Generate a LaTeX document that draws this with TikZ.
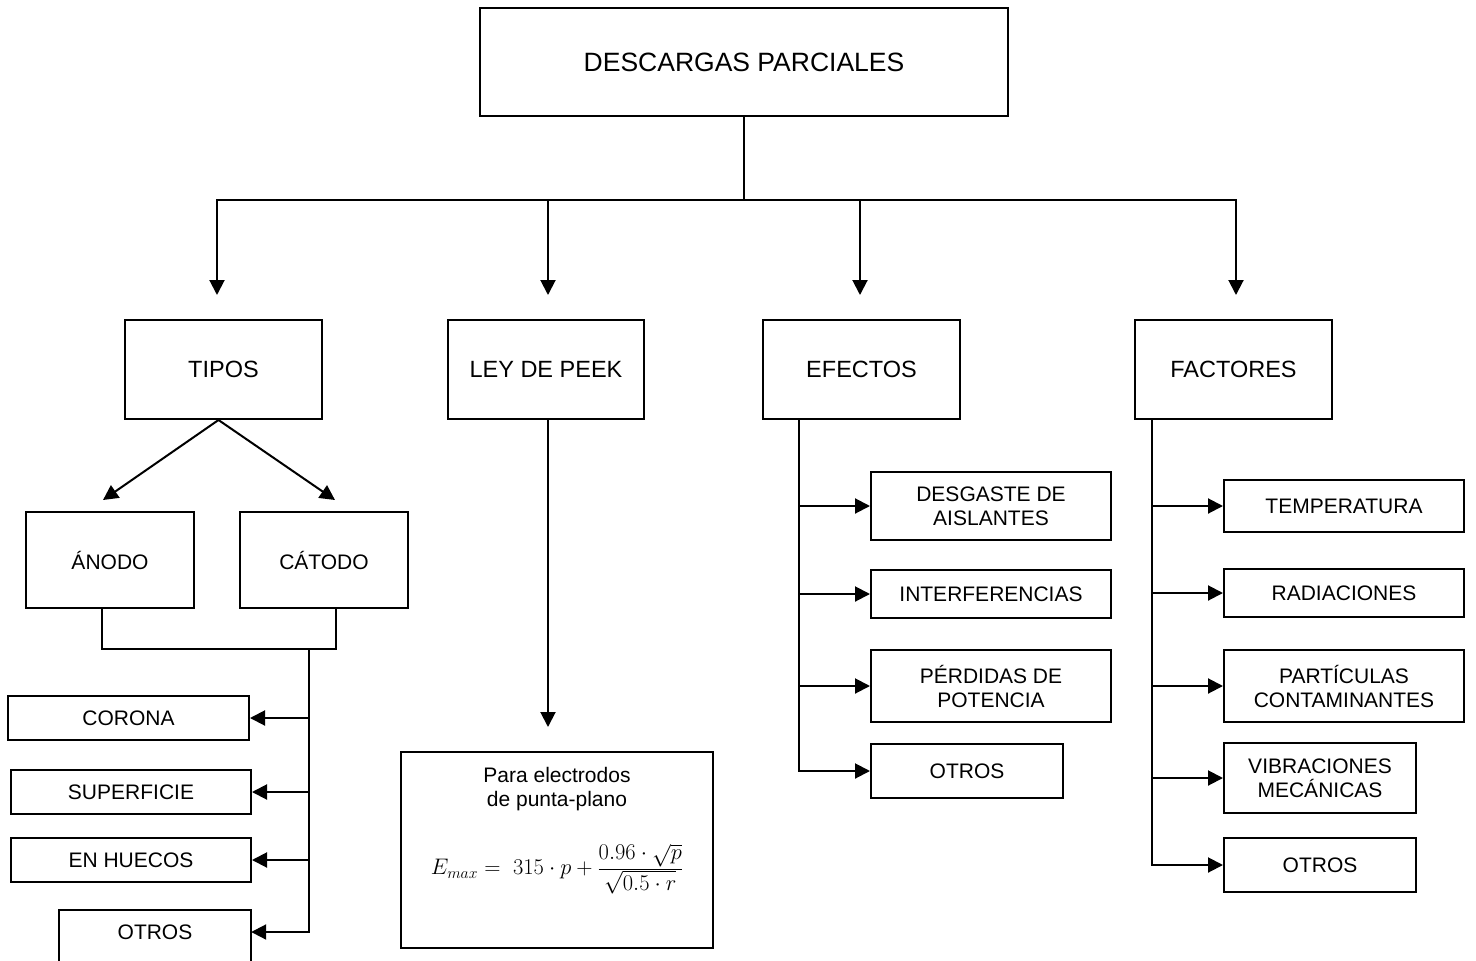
\RequirePackage{fix-cm}
\documentclass[tikz,border=0pt]{standalone}
\usepackage{fontspec}
\setmainfont{Liberation Sans}
\usetikzlibrary{arrows.meta}
\begin{document}
\begin{tikzpicture}[x=1pt,y=-1pt,
  box/.style={draw, line width=2pt, inner sep=0pt, align=center, font=\fontsize{21}{24}\selectfont},
  boxbig/.style={box, font=\fontsize{23.5}{27}\selectfont},
  boxtitle/.style={box, font=\fontsize{26.5}{30}\selectfont},
  conn/.style={line width=2pt},
  arr/.style={line width=2pt, -{Triangle[length=15pt,width=15pt]}},
  plain/.style={inner sep=0pt, align=center, font=\fontsize{21}{24}\selectfont}
]
\useasboundingbox (0,0) rectangle (1476,961);

% top
\node[boxtitle, minimum width=528, minimum height=108] (title) at (744,62) {DESCARGAS PARCIALES};

% level 2
\node[boxbig, minimum width=197, minimum height=99] (tipos) at (223.5,369.5) {TIPOS};
\node[boxbig, minimum width=196, minimum height=99] (ley) at (546,369.5) {LEY DE PEEK};
\node[boxbig, minimum width=197, minimum height=99] (efectos) at (861.5,369.5) {EFECTOS};
\node[boxbig, minimum width=197, minimum height=99] (factores) at (1233.5,369.5) {FACTORES};

% connectors from title
\coordinate (hub) at (744,200);
\coordinate (t1) at (217,295);
\coordinate (t2) at (548,295);
\coordinate (t3) at (860,295);
\coordinate (t4) at (1236,295);
\draw[conn] (title.south) -- (hub);
\draw[arr] (hub) -| (t1);
\draw[arr] (hub) -| (t2);
\draw[arr] (hub) -| (t3);
\draw[arr] (hub) -| (t4);

% TIPOS branch
\node[box, minimum width=168, minimum height=96] (anodo) at (110,560) {ÁNODO};
\node[box, minimum width=168, minimum height=96] (catodo) at (324,560) {CÁTODO};
\coordinate (a1) at (103,500);
\coordinate (a2) at (335,500);
\draw[arr] ([xshift=-5pt]tipos.south) -- (a1);
\draw[arr] ([xshift=-5pt]tipos.south) -- (a2);
\coordinate (join) at (309,649);
\draw[conn] ([xshift=-8pt]anodo.south) |- (join) -| ([xshift=12pt]catodo.south);

\node[box, minimum width=241, minimum height=44] (corona) at (128.5,718) {CORONA};
\node[box, minimum width=240, minimum height=44] (superficie) at (131,792) {SUPERFICIE};
\node[box, minimum width=240, minimum height=44] (huecos) at (131,860) {EN HUECOS};
\node[plain, minimum width=192, minimum height=44] (otrosT) at (155,932) {OTROS};
\draw[line width=2pt] (otrosT.north west) rectangle ([yshift=-40pt]otrosT.south east);

\draw[arr] (join) |- (otrosT.east);
\draw[arr] (corona.east -| join) -- (corona.east);
\draw[arr] (superficie.east -| join) -- (superficie.east);
\draw[arr] (huecos.east -| join) -- (huecos.east);

% LEY DE PEEK branch
\node[box, minimum width=312, minimum height=196] (formula) at (557,850) {};
\node[plain] (ftext) at (557,789) {Para electrodos\\de punta-plano};
\node[inner sep=0pt, font=\fontsize{22.5}{26}\selectfont] (feq) at (557,869)
  {$\displaystyle E_{max} =\; 315\cdot p+\frac{0.96\cdot\sqrt{p}}{\sqrt{0.5\cdot r}}$};
\coordinate (ftip) at (548,727);
\draw[arr] (ley.south -| ftip) -- (ftip);

% EFECTOS branch
\node[box, minimum width=240, minimum height=68] (desgaste) at (991,506) {DESGASTE DE\\AISLANTES};
\node[box, minimum width=240, minimum height=48] (interf) at (991,594) {INTERFERENCIAS};
\node[box, minimum width=240, minimum height=72] (perdidas) at (991,686) {PÉRDIDAS DE\\POTENCIA};
\node[box, minimum width=192, minimum height=54] (otrosE) at (967,771) {OTROS};
\coordinate (es) at (799,419);
\draw[arr] (es) |- (otrosE.west);
\draw[arr] (desgaste.west -| es) -- (desgaste.west);
\draw[arr] (interf.west -| es) -- (interf.west);
\draw[arr] (perdidas.west -| es) -- (perdidas.west);

% FACTORES branch
\node[box, minimum width=240, minimum height=52] (temp) at (1344,506) {TEMPERATURA};
\node[box, minimum width=240, minimum height=48] (rad) at (1344,593) {RADIACIONES};
\node[box, minimum width=240, minimum height=72] (part) at (1344,686) {PARTÍCULAS\\CONTAMINANTES};
\node[box, minimum width=192, minimum height=70] (vib) at (1320,778) {VIBRACIONES\\MECÁNICAS};
\node[box, minimum width=192, minimum height=54] (otrosF) at (1320,865) {OTROS};
\coordinate (fs) at (1152,419);
\draw[arr] (fs) |- (otrosF.west);
\draw[arr] (temp.west -| fs) -- (temp.west);
\draw[arr] (rad.west -| fs) -- (rad.west);
\draw[arr] (part.west -| fs) -- (part.west);
\draw[arr] (vib.west -| fs) -- (vib.west);
\end{tikzpicture}
\end{document}
